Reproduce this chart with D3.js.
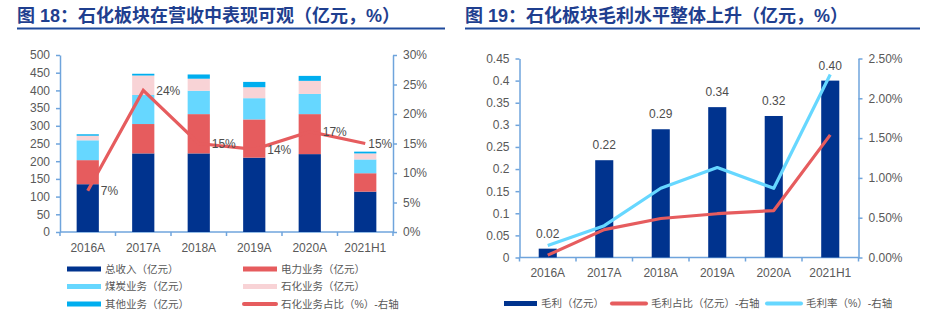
<!DOCTYPE html>
<html>
<head>
<meta charset="utf-8">
<script src="https://cdn.jsdelivr.net/npm/d3@7"></script>
<style>
  body { margin: 0; background: #fff; }
  svg text { font-family: "Liberation Sans", "Noto Sans CJK SC", sans-serif; }
</style>
</head>
<body>
<svg id="charts" width="929" height="321"></svg>
<script>
const svg = d3.select("#charts");

// ---- data: revenue breakdown (亿元) ----
const categories = ["2016A", "2017A", "2018A", "2019A", "2020A", "2021H1"];
const totalRev = [135, 222, 222, 210, 220, 114];
const powerRev = [68, 83, 111, 108, 113, 52];
const coalRev = [56, 82, 66, 60, 57, 39];
const petchemRev = [13, 55, 34, 31, 37, 17];
const otherRev = [4, 5, 12, 15, 14, 5];
const petchemShare = [7, 24, 15, 14, 17, 15];   // %
const revTicks = d3.range(0, 501, 50);
const shareTicks = d3.range(0, 31, 5);

// ---- data: gross profit ----
const grossProfit = [0.02, 0.22, 0.29, 0.34, 0.32, 0.40];
const profitShare = [0.03, 0.35, 0.49, 0.55, 0.59, 1.54];   // %
const grossMargin = [0.15, 0.40, 0.87, 1.13, 0.87, 2.30];   // %
const profitTicks = d3.range(0, 10).map(i => i * 0.05);
const pctTicks = [0, 0.5, 1, 1.5, 2, 2.5];

const leftLegend = ["总收入（亿元）", "电力业务（亿元）", "煤炭业务（亿元）", "石化业务（亿元）", "其他业务（亿元）", "石化业务占比（%）-右轴"];
const rightLegend = ["毛利（亿元）", "毛利占比（亿元）-右轴", "毛利率（%）-右轴"];

const navy = "#00338e", red = "#e65c5e", sky = "#66d7ff", pink = "#f8d3d6", cyan = "#00aeef";
const axisBlue = "#6fa4dc", grey = "#595959";

// titles with underline
function title(x, x2, txt) {
    svg.append("text")
        .attr("x", x).attr("y", 22)
        .attr("font-size", 18).attr("font-weight", "bold")
        .attr("fill", "#1f3f8f")
        .text(txt);
    svg.append("line")
        .attr("x1", x).attr("x2", x2).attr("y1", 28.5).attr("y2", 28.5)
        .attr("stroke", "#1f4a9c").attr("stroke-width", 2);
}
title(17, 445, "图 18：石化板块在营收中表现可观（亿元，%）");
title(465, 920, "图 19：石化板块毛利水平整体上升（亿元，%）");

// shared axis drawing: left + right value axes, category axis with boundary ticks
function axes(x, yL, yR, ticksL, ticksR, fmtL, fmtR) {
    const [x0, x1] = x.range();
    const y0 = yL.range()[0];
    const g = svg.append("g");

    const style = sel => {
        sel.selectAll("path,line").attr("stroke", axisBlue).attr("stroke-width", 1.5);
        sel.selectAll("text").attr("fill", grey).attr("font-size", 12);
    };
    g.append("g").attr("transform", `translate(${x0},0)`)
        .call(d3.axisLeft(yL).tickValues(ticksL).tickFormat(fmtL).tickSize(4).tickSizeOuter(0).tickPadding(6))
        .call(style);
    g.append("g").attr("transform", `translate(${x1},0)`)
        .call(d3.axisRight(yR).tickValues(ticksR).tickFormat(fmtR).tickSize(4).tickSizeOuter(0).tickPadding(6))
        .call(style);

    g.append("line")
        .attr("x1", x0).attr("x2", x1).attr("y1", y0).attr("y2", y0)
        .attr("stroke", axisBlue).attr("stroke-width", 1.5);
    g.selectAll(".bound")
        .data(d3.range(categories.length + 1))
        .join("line")
        .attr("class", "bound")
        .attr("x1", i => x0 + i * x.step()).attr("x2", i => x0 + i * x.step())
        .attr("y1", y0).attr("y2", y0 + 4)
        .attr("stroke", axisBlue).attr("stroke-width", 1.5);
    g.selectAll(".cat")
        .data(categories)
        .join("text")
        .attr("class", "cat")
        .attr("x", d => x(d) + x.bandwidth() / 2)
        .attr("y", y0 + 19.5)
        .attr("text-anchor", "middle")
        .attr("fill", grey).attr("font-size", 12)
        .text(d => d);
}

// legend item: bar swatch or line swatch followed by label
function legendItem(x, y, w, color, label, isLine) {
    if (isLine) {
        svg.append("line")
            .attr("x1", x + 1).attr("x2", x + w - 1).attr("y1", y).attr("y2", y)
            .attr("stroke", color).attr("stroke-width", 4).attr("stroke-linecap", "round");
    } else {
        svg.append("rect")
            .attr("x", x).attr("y", y - 2.5).attr("width", w).attr("height", 5)
            .attr("fill", color);
    }
    svg.append("text")
        .attr("x", x + w + 4).attr("y", y).attr("dy", "0.36em")
        .attr("fill", grey).attr("font-size", 10.5)
        .text(label);
}

// ================= left chart: stacked revenue =================
const x1 = d3.scaleBand().domain(categories).range([60, 393]).paddingInner(0.6).paddingOuter(0.3);
const yRev = d3.scaleLinear().domain([0, 500]).range([232, 55]);
const yShare = d3.scaleLinear().domain([0, 30]).range([232, 55]);

axes(x1, yRev, yShare, revTicks, shareTicks, d => d, d => d + "%");

const revRows = categories.map((c, i) => ({
    cat: c, total: totalRev[i], power: powerRev[i], coal: coalRev[i], petchem: petchemRev[i], other: otherRev[i]
}));
const revKeys = ["total", "power", "coal", "petchem", "other"];
const revColors = [navy, red, sky, pink, cyan];
const stacked = d3.stack().keys(revKeys)(revRows);

svg.append("g")
    .selectAll("g")
    .data(stacked)
    .join("g")
    .attr("fill", (d, i) => revColors[i])
    .selectAll("rect")
    .data(d => d)
    .join("rect")
    .attr("x", d => x1(d.data.cat))
    .attr("y", d => yRev(d[1]))
    .attr("width", x1.bandwidth())
    .attr("height", d => yRev(d[0]) - yRev(d[1]));

const shareLine = d3.line()
    .x((d, i) => x1(categories[i]) + x1.bandwidth() / 2)
    .y(d => yShare(d));

svg.append("path")
    .datum(petchemShare)
    .attr("d", shareLine)
    .attr("fill", "none")
    .attr("stroke", red)
    .attr("stroke-width", 3.2);

svg.append("g")
    .selectAll("text")
    .data(petchemShare)
    .join("text")
    .attr("x", (d, i) => x1(categories[i]) + x1.bandwidth() / 2 + (i === categories.length - 1 ? 3 : 13))
    .attr("y", d => yShare(d))
    .attr("dy", "0.36em")
    .attr("fill", "#4d4d4d").attr("font-size", 12)
    .text(d => d + "%");

const leftCols = [67, 243], leftRows = [269, 286.5, 304];
leftLegend.forEach((name, i) => {
    const color = i < 5 ? revColors[i] : red;
    legendItem(leftCols[i % 2], leftRows[Math.floor(i / 2)], 34, color, name, i === 5);
});

// ================= right chart: gross profit =================
const x2 = d3.scaleBand().domain(categories).range([519.5, 858.5]).paddingInner(0.68).paddingOuter(0.34);
const yProfit = d3.scaleLinear().domain([0, 0.45]).range([257.5, 58.5]);
const yPct = d3.scaleLinear().domain([0, 2.5]).range([257.5, 58.5]);

axes(x2, yProfit, yPct, profitTicks, pctTicks, d => d3.format(".2~f")(d), d => d.toFixed(2) + "%");

svg.append("g")
    .selectAll("rect")
    .data(grossProfit)
    .join("rect")
    .attr("x", (d, i) => x2(categories[i]))
    .attr("y", d => yProfit(d))
    .attr("width", x2.bandwidth())
    .attr("height", d => yProfit(0) - yProfit(d))
    .attr("fill", navy);

svg.append("g")
    .selectAll("text")
    .data(grossProfit)
    .join("text")
    .attr("x", (d, i) => x2(categories[i]) + x2.bandwidth() / 2)
    .attr("y", d => yProfit(d) - 11)
    .attr("text-anchor", "middle")
    .attr("fill", "#4d4d4d").attr("font-size", 12)
    .text(d => d.toFixed(2));

const pctLine = d3.line()
    .x((d, i) => x2(categories[i]) + x2.bandwidth() / 2)
    .y(d => yPct(d));

[[profitShare, red], [grossMargin, sky]].forEach(([vals, color]) => {
    svg.append("path")
        .datum(vals)
        .attr("d", pctLine)
        .attr("fill", "none")
        .attr("stroke", color)
        .attr("stroke-width", 3.2)
        .attr("stroke-linejoin", "round");
});

const rightX = [504, 611, 766], rightW = [33, 36, 36];
rightLegend.forEach((name, i) => {
    legendItem(rightX[i], 303.5, rightW[i], [navy, red, sky][i], name, i > 0);
});
</script>
</body>
</html>
